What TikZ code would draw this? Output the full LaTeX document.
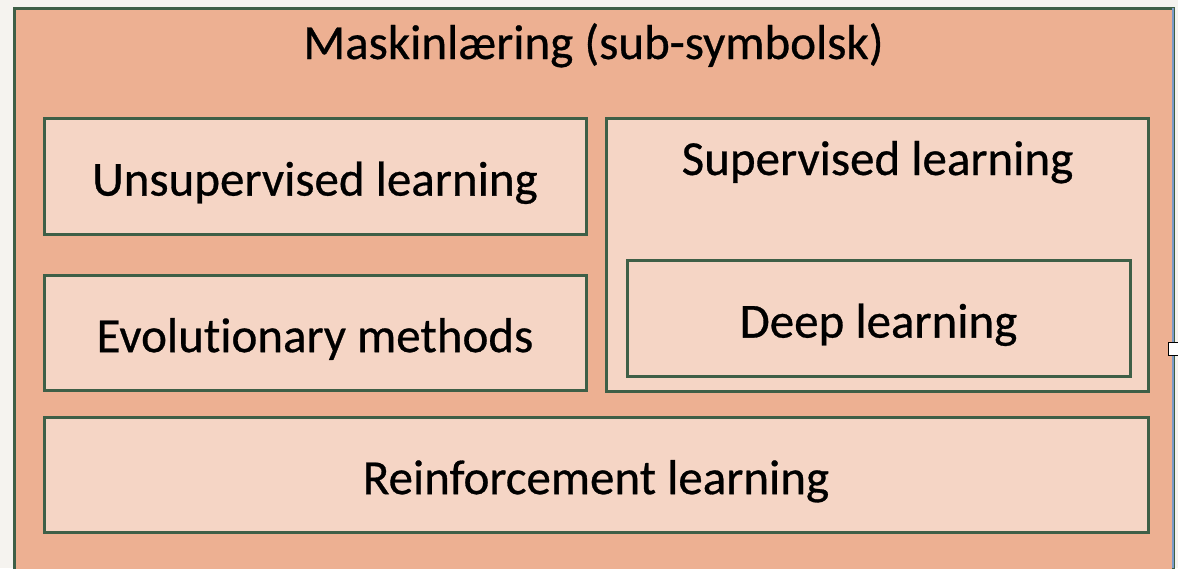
\documentclass[tikz,border=0pt]{standalone}
\usepackage{fontspec}
\setmainfont{Carlito}[Ligatures=CommonOff, FakeBold=0.6]
\usepackage{xcolor}
\usepackage{tikz}
\usetikzlibrary{positioning}
\definecolor{paper}{HTML}{F5F3EF}
\definecolor{salmon}{HTML}{EDB092}
\definecolor{blush}{HTML}{F5D5C5}
\definecolor{edge}{HTML}{3E5F47}
\definecolor{selblue}{HTML}{7D9BC8}
\tikzset{
    area/.style={rectangle, draw=edge, line width=1.5pt, fill=blush, inner sep=0pt,
        text height=19.6pt, text depth=0pt, font=\fontsize{24.5}{29}\selectfont},
    outerarea/.style={rectangle, draw=edge, line width=1.5pt, fill=salmon, inner sep=0pt},
    heading/.style={anchor=base, inner sep=0pt, font=\fontsize{24.5}{29}\selectfont},
}

\begin{document}
\begin{tikzpicture}[x=0.5pt, y=-0.5pt]
    \useasboundingbox (0,0) rectangle (1178,568);
    \fill[paper] (0,0) rectangle (1178,568);

    % outer frame, runs past the bottom edge
    \node[outerarea, minimum width=579.5pt, minimum height=291pt] (ml) at (593.5,299) {};
    \node[heading] (mltitle) at (593.5,59) {Maskinlæring (sub-symbolsk)};

    \node[area, minimum width=271pt, minimum height=58pt] (unsup) at (315,176) {Unsupervised learning};
    \node[area, minimum width=271pt, minimum height=57.5pt] (evo) at (315,332.5) {Evolutionary methods};

    \node[area, minimum width=271pt, minimum height=136.5pt] (sup) at (877,254.5) {};
    \node[heading] (suptitle) at (877.5,175) {Supervised learning};
    \node[area, minimum width=251.5pt, minimum height=58pt] (deep) at (878.5,318) {Deep learning};

    \node[area, minimum width=552pt, minimum height=57.5pt] (reinf) at (596,474.5) {Reinforcement learning};

    % selection frame edge and handle
    \draw[selblue, line width=1pt] (1173,8) -- (1173,568);
    \node[rectangle, draw=black, line width=0.4pt, fill=white, minimum width=5pt, minimum height=6.5pt, inner sep=0pt] (handle) at (1173,348.5) {};
\end{tikzpicture}
\end{document}
